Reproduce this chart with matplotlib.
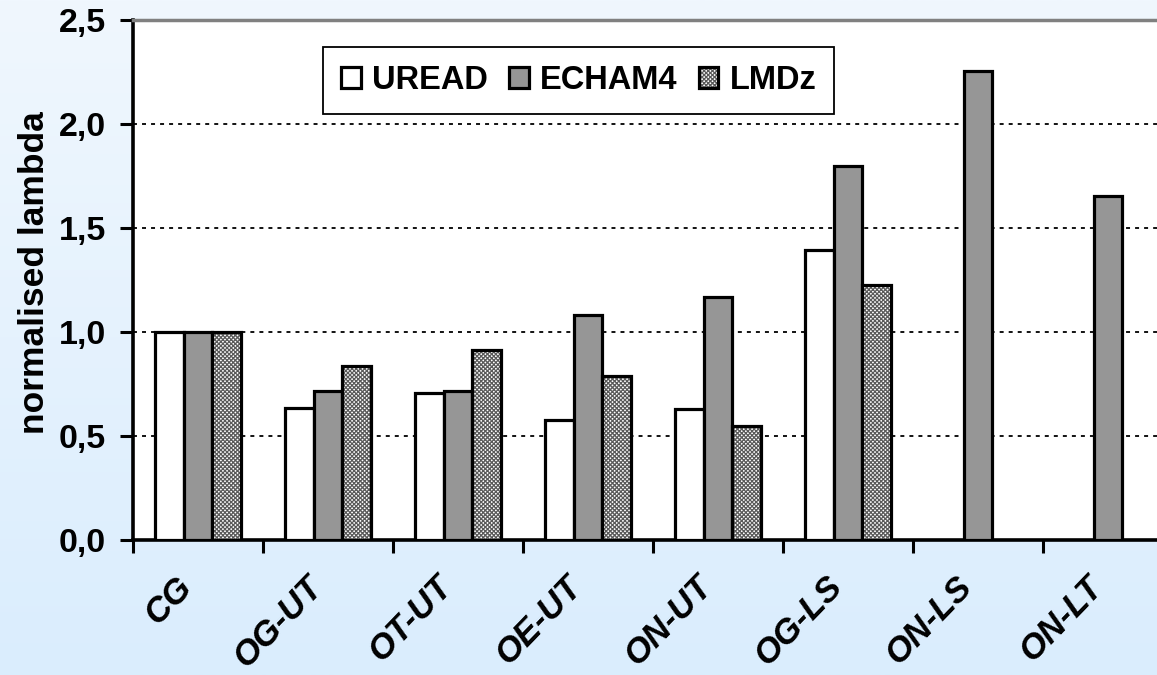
import numpy as np
import matplotlib
matplotlib.use("Agg")
import matplotlib.pyplot as plt
from matplotlib.patches import Patch
from matplotlib.legend_handler import HandlerTuple
from matplotlib.ticker import FixedLocator, FuncFormatter
from matplotlib.transforms import ScaledTranslation

categories = ["CG", "OG-UT", "OT-UT", "OE-UT", "ON-UT", "OG-LS", "ON-LS", "ON-LT"]
uread = [1.0, 0.633, 0.708, 0.577, 0.63, 1.394, np.nan, np.nan]
echam4 = [1.0, 0.716, 0.715, 1.082, 1.168, 1.80, 2.256, 1.654]
lmdz = [1.0, 0.838, 0.913, 0.79, 0.548, 1.226, np.nan, np.nan]
series_names = ["UREAD", "ECHAM4", "LMDz"]
yticks = [0.0, 0.5, 1.0, 1.5, 2.0, 2.5]

plt.rcParams['font.family'] = ['Liberation Sans', 'DejaVu Sans']
plt.rcParams['hatch.linewidth'] = 0.9

W, H = 1157, 675
fig = plt.figure(figsize=(W / 100, H / 100), dpi=100)

# background gradient
bg = fig.add_axes([0, 0, 1, 1], zorder=-10)
top_c = np.array([240, 247, 254]) / 255
bot_c = np.array([218, 237, 253]) / 255
t = np.linspace(0, 1, 256)[:, None]
grad = top_c[None, :] * (1 - t) + bot_c[None, :] * t
bg.imshow(grad[:, None, :], aspect='auto', extent=[0, 1, 0, 1])
bg.axis('off')

ax = fig.add_axes([133 / W, 135 / H, 1040 / W, 520 / H])
ax.set_facecolor('white')

x = np.arange(len(categories))
bw = 0.223
edge_lw = 2.3

ax.bar(x - bw, uread, bw, color='white', edgecolor='black', linewidth=edge_lw, zorder=3)
ax.bar(x, echam4, bw, color='#969696', edgecolor='black', linewidth=edge_lw, zorder=3)
ax.bar(x + bw, lmdz, bw, color='white', edgecolor='#5a5a5a', linewidth=0,
       hatch='xxxxxxxx', zorder=3)
ax.bar(x + bw, lmdz, bw, fill=False, edgecolor='black', linewidth=edge_lw, zorder=4)

ax.set_xlim(-0.5, len(categories) - 0.5)
ax.set_ylim(0, 2.5)

ax.yaxis.set_major_locator(FixedLocator(yticks))
ax.yaxis.set_major_formatter(FuncFormatter(lambda v, p: f"{v:.1f}".replace('.', ',')))
ax.grid(axis='y', color='black', linestyle=(0, (2.2, 2.8)), linewidth=1.3, zorder=1)
ax.set_axisbelow(True)

ax.set_xticks(x)
ax.set_xticklabels(categories, rotation=46, ha='right', va='center',
                   rotation_mode='anchor', fontsize=25, fontweight='bold', fontstyle='italic')
ax.set_xticks(np.arange(-0.5, len(categories) - 0.5 + 0.01, 1), minor=True)
ax.tick_params(axis='x', which='major', length=0, pad=30)
ax.tick_params(axis='x', which='minor', length=9, width=2.2, direction='out', color='black')
for lbl in ax.get_xticklabels():
    lbl.set_transform(lbl.get_transform() + ScaledTranslation(-0.11, 0, fig.dpi_scale_trans))

ax.tick_params(axis='y', length=9.5, width=2.2, direction='out', pad=10, labelsize=24.5)
for lbl in ax.get_yticklabels():
    lbl.set_fontweight('bold')

ax.spines['left'].set_linewidth(2.6)
ax.spines['bottom'].set_linewidth(2.6)
ax.spines['top'].set_color('#808080')
ax.spines['top'].set_linewidth(2.5)
ax.spines['right'].set_visible(False)

ax.set_ylabel("normalised lambda", fontsize=25.5, fontweight='bold')
ax.yaxis.set_label_coords(-0.079, 0.515)

h1 = Patch(facecolor='white', edgecolor='black', linewidth=2.3)
h2 = Patch(facecolor='#969696', edgecolor='black', linewidth=2.3)
h3a = Patch(facecolor='white', edgecolor='#5a5a5a', linewidth=0, hatch='xxxxxxxx')
h3b = Patch(fill=False, edgecolor='black', linewidth=2.3)
leg = ax.legend([h1, h2, (h3a, h3b)], series_names,
                handler_map={tuple: HandlerTuple(ndivide=1)},
                loc='upper left', bbox_to_anchor=(190 / 1040, 1 - 27 / 520),
                ncol=3, frameon=True, fancybox=False, framealpha=1,
                edgecolor='black', prop={'weight': 'bold', 'size': 23.5},
                handlelength=0.6, handleheight=0.6, handletextpad=0.35,
                columnspacing=0.65, borderpad=0.55, borderaxespad=0)
leg.get_frame().set_linewidth(1.3)
leg.set_zorder(10)

fig.savefig("out.png", dpi=100)
